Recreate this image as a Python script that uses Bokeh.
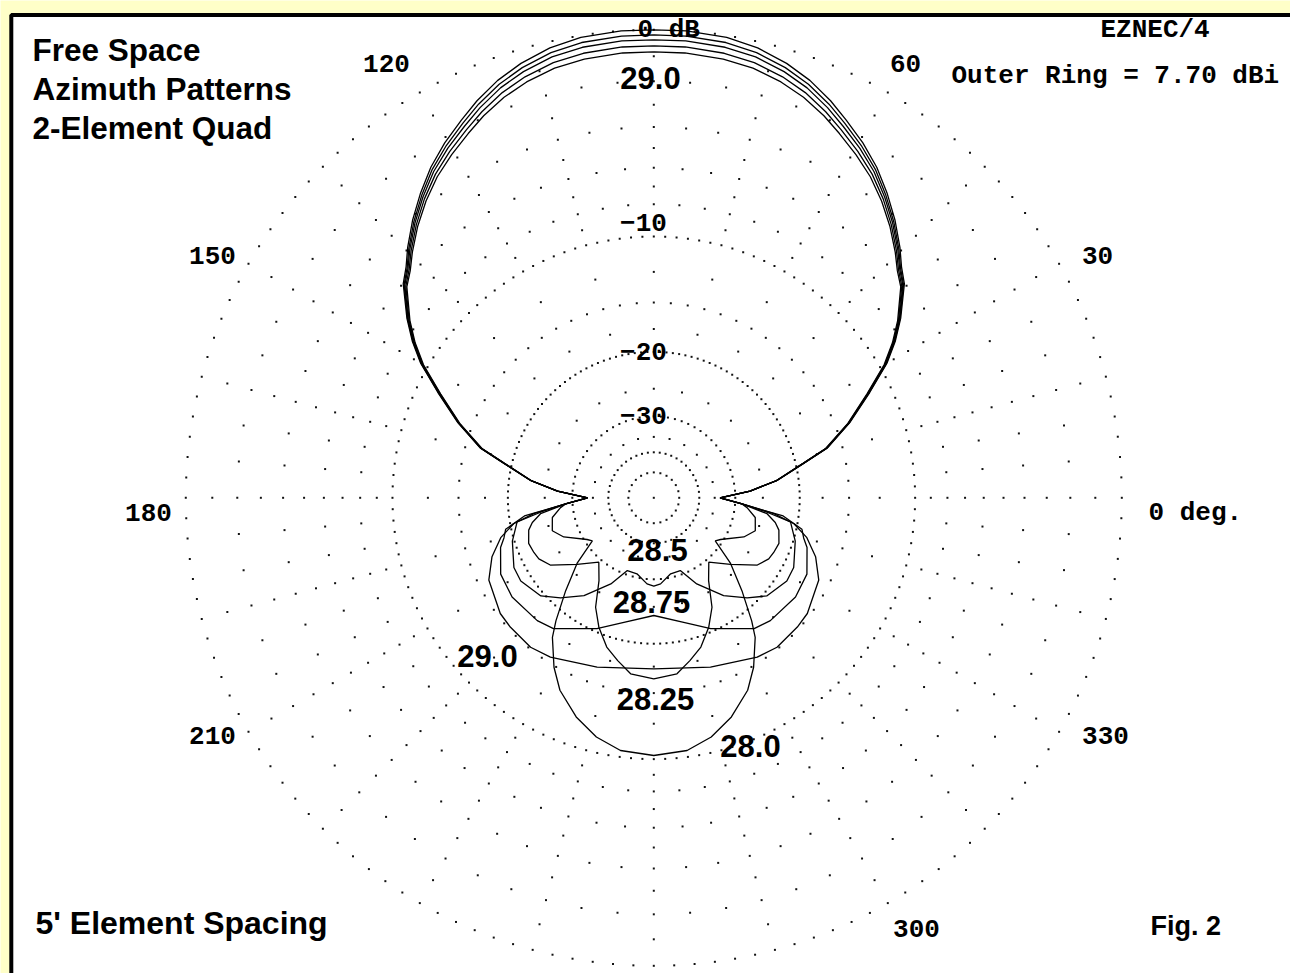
import math

from bokeh.core.properties import value
from bokeh.embed import file_html
from bokeh.models import Range1d
from bokeh.plotting import figure
from bokeh.resources import INLINE

# ---------------------------------------------------------------------------
# Pattern data: azimuth (deg, 0 = right, counter-clockwise) and gain (dBi)
# Each list runs over the left half of the pattern, boresight (90) to rear (270);
# the quad's azimuth pattern is symmetric about the boresight line.
# ---------------------------------------------------------------------------
OUTER_RING_DBI = 7.70

freq_labels = ["28.0", "28.25", "28.5", "28.75", "29.0"]

az_main = [90, 94, 99, 103, 107, 110.5, 114, 117, 120.5, 124, 127.5, 131, 134.5,
           137, 139.5, 144, 147, 150, 154, 159, 164, 167, 172, 176, 180]

az_280 = az_main + [184, 186, 191, 198, 203.5, 212, 215, 220.5, 226.5, 231.5, 234,
                    239.5, 244, 250.5, 256.5, 262.5, 270]
gain_280 = [7.70, 7.70, 7.63, 7.47, 7.19, 6.86, 6.43, 6.00, 5.51, 4.95, 4.28, 3.56, 2.77,
            2.15, 1.68, 0.36, -0.63, -1.79, -3.75, -6.06, -8.65, -11.35, -15.03, -19.38, -25.84,
            -20.90, -19.89, -18.22, -17.67, -19.10, -22.90, -23.72, -18.62, -14.55, -11.02, -9.43,
            -7.18, -5.72, -4.31, -3.34, -2.73, -2.54]

az_2825 = az_main + [184, 188, 191.5, 194.5, 200, 204.5, 208, 213, 221, 229.5, 236.5,
                     242, 247, 252.5, 257.5, 262.5, 270]
gain_2825 = [7.51, 7.51, 7.44, 7.29, 7.02, 6.70, 6.28, 5.86, 5.38, 4.84, 4.18, 3.47, 2.69,
             2.08, 1.62, 0.31, -0.68, -1.84, -3.80, -6.10, -8.69, -11.38, -15.05, -19.39, -25.84,
             -20.90, -16.48, -15.10, -14.39, -13.87, -14.05, -14.26, -15.17, -18.51, -21.64, -18.91,
             -15.10, -12.94, -11.10, -10.01, -8.94, -8.60]

az_285 = az_main + [184, 187, 190, 197, 203, 206.5, 212, 221, 227, 234.5, 243.5, 250,
                    257.5, 265.5, 270]
gain_285 = [7.33, 7.33, 7.26, 7.12, 6.86, 6.55, 6.13, 5.72, 5.25, 4.73, 4.09, 3.39, 2.62,
            2.02, 1.57, 0.27, -0.72, -1.88, -3.84, -6.13, -8.72, -11.41, -15.07, -19.40, -25.84,
            -20.90, -16.80, -13.16, -12.07, -11.53, -11.12, -11.06, -11.87, -13.41, -15.63, -19.44,
            -23.18, -23.09, -21.31, -20.90]

az_2875 = az_main + [184, 188, 192, 195, 198, 206.5, 215, 226.5, 232.5, 246.5, 256.5, 270]
gain_2875 = [7.10, 7.10, 7.03, 6.90, 6.65, 6.35, 5.95, 5.55, 5.09, 4.59, 3.98, 3.29, 2.53,
             1.94, 1.50, 0.21, -0.78, -1.94, -3.90, -6.18, -8.77, -11.44, -15.09, -19.41, -25.84,
             -20.90, -14.20, -11.66, -11.25, -10.60, -9.57, -9.38, -9.75, -10.21, -12.68, -14.55,
             -15.99]

az_290 = az_main + [184, 187.5, 190.5, 194.5, 200, 206.5, 217, 222, 230.5, 237, 251.5, 270]
gain_290 = [6.87, 6.87, 6.80, 6.68, 6.44, 6.15, 5.77, 5.38, 4.93, 4.45, 3.86, 3.19, 2.44,
            1.86, 1.43, 0.15, -0.84, -2.00, -3.96, -6.23, -8.82, -11.47, -15.11, -19.42, -25.84,
            -20.90, -15.50, -12.70, -10.95, -9.46, -8.29, -7.57, -7.49, -7.44, -7.78, -8.83,
            -9.58]

patterns = [(az_280, gain_280), (az_2825, gain_2825), (az_285, gain_285),
            (az_2875, gain_2875), (az_290, gain_290)]

# Grid: dB rings (with dot spacing in degrees), spoke directions and spoke dot levels
ring_db = [0, -2, -4, -6, -8, -10, -15, -20, -30, -40, -50]
ring_step = [2.5, 5, 5, 5, 5, 2.5, 5, 2.5, 5, 7.5, 15]
spoke_az = list(range(0, 360, 15))
spoke_db = [-1, -3, -5, -7, -9, -12.5, -17.5, -25, -35]

angle_labels = ["120", "60", "150", "30", "180", "210", "330", "300"]
ring_labels = ["\u221210", "\u221220", "\u221230"]

# ---------------------------------------------------------------------------
# Layout (page pixels, y grows downward)
# ---------------------------------------------------------------------------
W, H = 1290, 973
CX, CY = 653.3, 497.3      # plot centre
R = 468.0                  # radius of the 0 dB (outer) ring


def arrl_radius(db_rel):
    """ARRL log scale: radius for a level in dB below the outer ring."""
    return R * 0.89 ** (-db_rel / 2.0)


def polar(az_deg, radius):
    a = math.radians(az_deg)
    return CX + radius * math.cos(a), CY - radius * math.sin(a)


p = figure(width=W, height=H, x_range=Range1d(0, W), y_range=Range1d(H, 0),
           min_border=0, x_axis_location=None, y_axis_location=None,
           toolbar_location=None, output_backend="svg",
           background_fill_color="#FFFFC8", border_fill_color="#FFFFC8",
           outline_line_color=None)
p.xgrid.visible = False
p.ygrid.visible = False

# white plotting sheet with a heavy black edge
p.quad(left=[10.8], right=[W + 20], top=[14.6], bottom=[H + 20],
       fill_color="white", line_color="black", line_width=4)

# dotted rings
gx, gy = [], []
for db, step in zip(ring_db, ring_step):
    n = int(round(360 / step))
    for i in range(n):
        x, y = polar(i * step, arrl_radius(db))
        gx.append(x)
        gy.append(y)
# dotted spokes
for az in spoke_az:
    for db in spoke_db:
        x, y = polar(az, arrl_radius(db))
        gx.append(x)
        gy.append(y)
gx.append(CX)
gy.append(CY)
p.scatter(gx, gy, marker="square", size=2, fill_color="#111111", line_color=None)

# azimuth patterns (left half drawn, right half mirrored about boresight)
for az_list, gain_list in patterns:
    xs, ys = [], []
    for az, g in zip(az_list, gain_list):
        x, y = polar(az, arrl_radius(g - OUTER_RING_DBI))
        xs.append(x)
        ys.append(y)
    mx = [2 * CX - x for x in reversed(xs)]
    my = list(reversed(ys))
    p.line(xs + mx[1:], ys + my[1:], line_color="black", line_width=1.3)

mono = dict(text_font=value("Liberation Mono"), text_font_size=value("26px"),
            text_font_style="bold", text_color="black", text_baseline="middle")

# compass labels
p.text(x=[386, 905, 212, 1097, 148, 212, 1105, 916],
       y=[63, 63, 255, 255, 512, 735, 735, 928],
       text=angle_labels, text_align="center", **mono)
p.text(x=[1148], y=[512], text=["0 deg."], text_align="left", **mono)
# ring labels
p.text(x=[643, 643, 643], y=[222, 351, 415], text=ring_labels,
       text_align="center", **mono)
p.text(x=[637], y=[29], text=["0 dB"], text_align="left", **mono)
p.text(x=[1100], y=[29], text=["EZNEC/4"], text_align="left", **mono)
p.text(x=[951], y=[75], text=["Outer Ring = %.2f dBi" % OUTER_RING_DBI],
       text_align="left", **mono)

sans = dict(text_font=value("Liberation Sans"), text_font_style="bold",
            text_color="black", text_baseline="middle")

# title block
p.text(x=[32, 32, 32], y=[49, 88, 127],
       text=["Free Space", "Azimuth Patterns", "2-Element Quad"],
       text_align="left", text_font_size=value("31.5px"), **sans)

# caption and figure number
p.text(x=[35], y=[922], text=["5' Element Spacing"], text_align="left",
       text_font_size=value("32px"), **sans)
p.text(x=[1150], y=[925], text=["Fig. 2"], text_align="left",
       text_font_size=value("27px"), **sans)

# frequency (MHz) labels for each trace
p.text(x=[750, 655, 657, 651, 650, 487],
       y=[745, 698, 549, 601, 77, 655],
       text=[freq_labels[0], freq_labels[1], freq_labels[2], freq_labels[3],
             freq_labels[4], freq_labels[4]],
       text_align="center", text_font_size=value("31px"), **sans)

open("out.html", "w").write(file_html(p, INLINE))
